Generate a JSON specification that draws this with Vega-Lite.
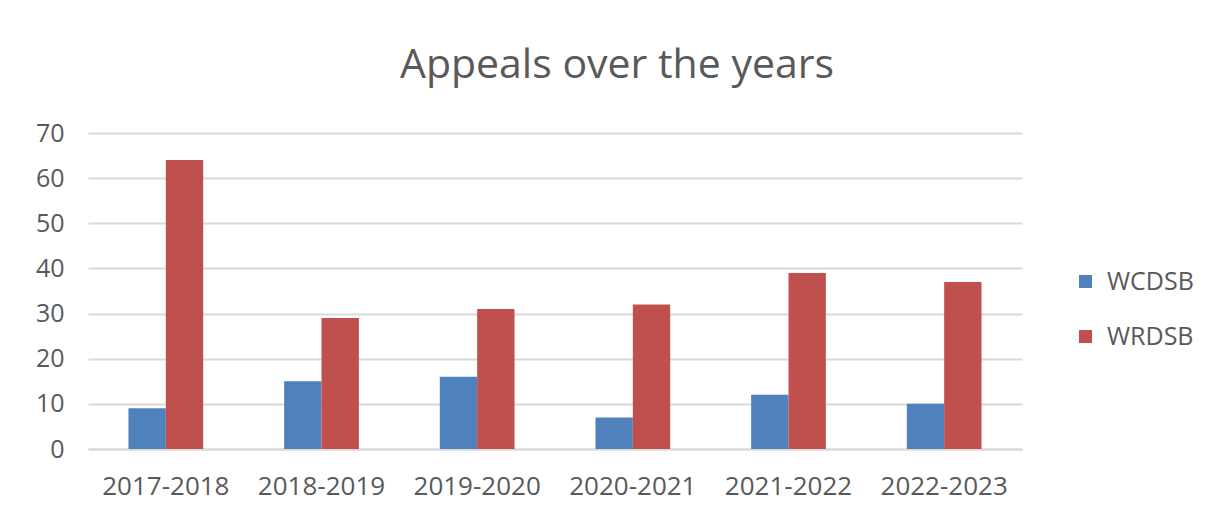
{
  "$schema": "https://vega.github.io/schema/vega-lite/v6.json",
  "autosize": "none",
  "width": 934,
  "height": 316,
  "padding": {"left": 88, "top": 133, "right": 210, "bottom": 77},
  "background": "white",
  "title": {
    "text": "Appeals over the years",
    "fontSize": 41,
    "font": "Open Sans",
    "fontWeight": "normal",
    "color": "#595959",
    "anchor": "middle",
    "dx": 62,
    "offset": 34
  },
  "data": {
    "values": [
      {"year": "2017-2018", "board": "WCDSB", "appeals": 9},
      {"year": "2017-2018", "board": "WRDSB", "appeals": 64},
      {"year": "2018-2019", "board": "WCDSB", "appeals": 15},
      {"year": "2018-2019", "board": "WRDSB", "appeals": 29},
      {"year": "2019-2020", "board": "WCDSB", "appeals": 16},
      {"year": "2019-2020", "board": "WRDSB", "appeals": 31},
      {"year": "2020-2021", "board": "WCDSB", "appeals": 7},
      {"year": "2020-2021", "board": "WRDSB", "appeals": 32},
      {"year": "2021-2022", "board": "WCDSB", "appeals": 12},
      {"year": "2021-2022", "board": "WRDSB", "appeals": 39},
      {"year": "2022-2023", "board": "WCDSB", "appeals": 10},
      {"year": "2022-2023", "board": "WRDSB", "appeals": 37}
    ]
  },
  "mark": {"type": "bar"},
  "encoding": {
    "x": {
      "field": "year",
      "type": "nominal",
      "title": null,
      "scale": {"paddingInner": 0.52, "paddingOuter": 0.26},
      "axis": {
        "labelAngle": 0,
        "labelFontSize": 26,
        "labelFont": "Open Sans",
        "labelColor": "#595959",
        "labelPadding": 24,
        "domain": true,
        "domainColor": "#d9d9d9",
        "domainWidth": 2,
        "ticks": false,
        "grid": false
      }
    },
    "xOffset": {"field": "board", "type": "nominal", "scale": {"paddingInner": 0, "paddingOuter": 0}},
    "y": {
      "field": "appeals",
      "type": "quantitative",
      "title": null,
      "scale": {"domain": [0, 70], "nice": false},
      "axis": {
        "values": [0, 10, 20, 30, 40, 50, 60, 70],
        "labelFontSize": 25,
        "labelFont": "Open Sans",
        "labelColor": "#595959",
        "labelPadding": 24,
        "domain": false,
        "ticks": false,
        "grid": true,
        "gridColor": "#d9d9d9",
        "gridWidth": 2
      }
    },
    "color": {
      "field": "board",
      "type": "nominal",
      "title": null,
      "scale": {"domain": ["WCDSB", "WRDSB"], "range": ["#4F81BD", "#C0504D"]},
      "legend": {
        "orient": "none",
        "legendX": 985,
        "legendY": 136,
        "symbolType": "square",
        "symbolSize": 170,
        "symbolStrokeWidth": 0,
        "labelFontSize": 25,
        "labelFont": "Open Sans",
        "labelColor": "#595959",
        "labelOffset": 9,
        "rowPadding": 29
      }
    }
  },
  "config": {
    "view": {"stroke": null}
  }
}
